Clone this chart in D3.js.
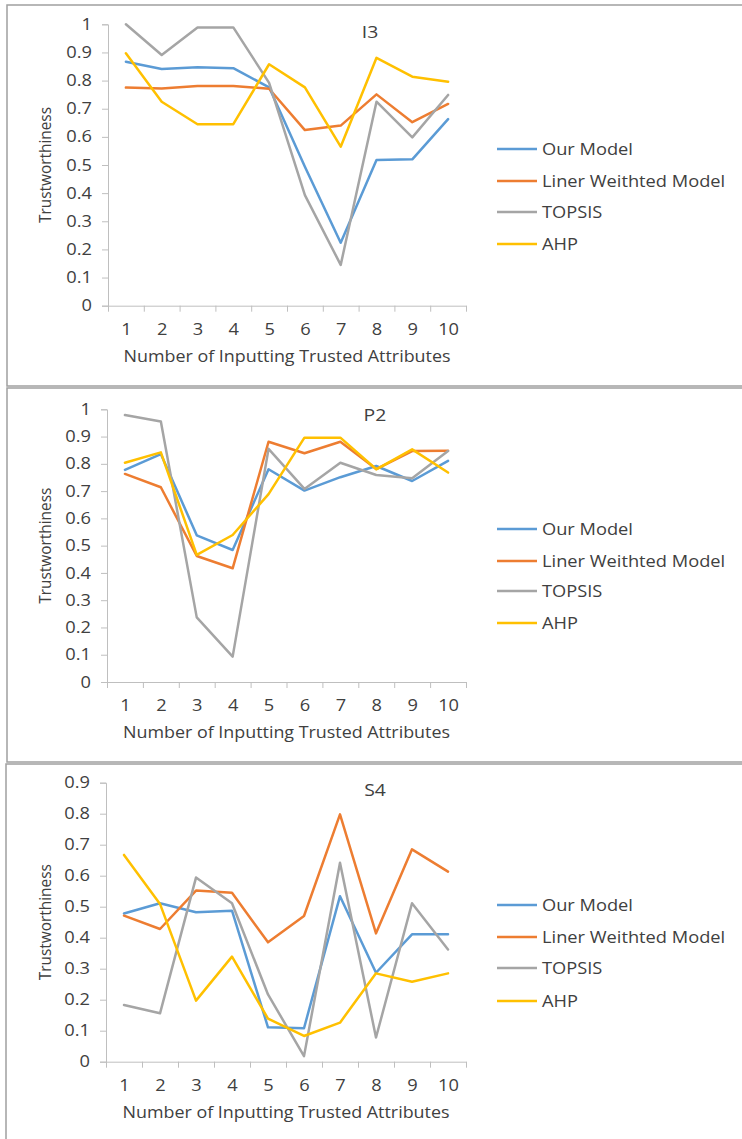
<!DOCTYPE html>
<html>
<head>
<meta charset="utf-8">
<script src="https://cdn.jsdelivr.net/npm/d3@7"></script>
<style>
  html, body { margin: 0; padding: 0; background: #ffffff; }
  svg { display: block; }
  text { font-family: "Open Sans", "DejaVu Sans", sans-serif; fill: #404040; }
</style>
</head>
<body>
<svg id="chart" width="742" height="1139"></svg>
<script>
// ---------------- data ----------------
const categories = [1, 2, 3, 4, 5, 6, 7, 8, 9, 10];
const seriesNames = ["Our Model", "Liner Weithted Model", "TOPSIS", "AHP"];
const seriesColors = ["#5B9BD5", "#ED7D31", "#A5A5A5", "#FFC000"];
const xTitle = "Number of Inputting Trusted Attributes";
const yTitle = "Trustworthiness";

// Panel I3
const i3Title = "I3";
const i3OurModel = [0.867, 0.841, 0.847, 0.844, 0.776, 0.494, 0.224, 0.518, 0.520, 0.663];
const i3Liner    = [0.775, 0.772, 0.781, 0.781, 0.771, 0.624, 0.640, 0.751, 0.652, 0.717];
const i3Topsis   = [1.000, 0.891, 0.989, 0.989, 0.792, 0.393, 0.145, 0.725, 0.598, 0.749];
const i3Ahp      = [0.897, 0.725, 0.645, 0.645, 0.858, 0.776, 0.565, 0.881, 0.814, 0.796];
const i3YTicks   = [0, 0.1, 0.2, 0.3, 0.4, 0.5, 0.6, 0.7, 0.8, 0.9, 1];

// Panel P2
const p2Title = "P2";
const p2OurModel = [0.778, 0.836, 0.538, 0.484, 0.780, 0.702, 0.751, 0.792, 0.737, 0.811];
const p2Liner    = [0.763, 0.714, 0.462, 0.417, 0.881, 0.839, 0.881, 0.781, 0.847, 0.848];
const p2Topsis   = [0.979, 0.955, 0.237, 0.093, 0.855, 0.708, 0.804, 0.759, 0.747, 0.847];
const p2Ahp      = [0.804, 0.842, 0.466, 0.539, 0.689, 0.896, 0.896, 0.780, 0.853, 0.768];
const p2YTicks   = [0, 0.1, 0.2, 0.3, 0.4, 0.5, 0.6, 0.7, 0.8, 0.9, 1];

// Panel S4
const s4Title = "S4";
const s4OurModel = [0.478, 0.511, 0.482, 0.487, 0.111, 0.108, 0.534, 0.287, 0.411, 0.411];
const s4Liner    = [0.471, 0.428, 0.552, 0.545, 0.385, 0.470, 0.798, 0.414, 0.685, 0.613];
const s4Topsis   = [0.183, 0.156, 0.594, 0.511, 0.217, 0.018, 0.642, 0.078, 0.511, 0.362];
const s4Ahp      = [0.667, 0.509, 0.197, 0.339, 0.139, 0.083, 0.126, 0.285, 0.258, 0.285];
const s4YTicks   = [0, 0.1, 0.2, 0.3, 0.4, 0.5, 0.6, 0.7, 0.8, 0.9];

// ---------------- layout ----------------
const panels = [
  { title: i3Title, series: [i3OurModel, i3Liner, i3Topsis, i3Ahp], yTicks: i3YTicks, yMax: 1,
    box: [7, 5, 386], x0: 108, x1: 466, yTop: 24.3, yBot: 305.7, titlePos: [370, 38],
    legendY: [149, 181, 212, 244] },
  { title: p2Title, series: [p2OurModel, p2Liner, p2Topsis, p2Ahp], yTicks: p2YTicks, yMax: 1,
    box: [7, 388, 762], x0: 107, x1: 466, yTop: 409.3, yBot: 682, titlePos: [375, 421],
    legendY: [529, 561, 591, 623] },
  { title: s4Title, series: [s4OurModel, s4Liner, s4Topsis, s4Ahp], yTicks: s4YTicks, yMax: 0.9,
    box: [6, 764, 1150], x0: 106, x1: 466, yTop: 782.7, yBot: 1061.7, titlePos: [375, 796],
    legendY: [905, 937, 968, 1001] }
];

const svg = d3.select("#chart");
svg.append("rect").attr("width", 742).attr("height", 1139).attr("fill", "#ffffff");

const axisColor = "#BFBFBF";
const stretch = 1.14;   // the reference text is drawn slightly wide

function widen(sel) {
  sel.each(function () {
    const w = this.getComputedTextLength();
    if (w > 0) {
      d3.select(this).attr("textLength", w * stretch).attr("lengthAdjust", "spacingAndGlyphs");
    }
  });
}

panels.forEach(p => {
  const g = svg.append("g");

  // frame
  g.append("rect")
    .attr("x", p.box[0]).attr("y", p.box[1])
    .attr("width", 760).attr("height", p.box[2] - p.box[1])
    .attr("fill", "none").attr("stroke", "#A0A0A0").attr("stroke-width", 1.5);

  const x = d3.scaleLinear().domain([0.5, 10.5]).range([p.x0, p.x1]);
  const y = d3.scaleLinear().domain([0, p.yMax]).range([p.yBot, p.yTop]);

  // y axis
  const yAxis = g.append("g")
    .attr("transform", `translate(${p.x0},0)`)
    .call(d3.axisLeft(y).tickValues(p.yTicks).tickSize(6).tickPadding(10)
      .tickFormat(d => d3.format("~g")(d)));
  yAxis.select(".domain").attr("stroke", axisColor);
  yAxis.selectAll(".tick line").attr("stroke", axisColor);
  yAxis.selectAll(".tick text").attr("font-size", 16).attr("fill", "#404040")
    .attr("font-family", "'Open Sans', sans-serif").call(widen);

  // x axis: tick marks at category boundaries
  const xBound = d3.range(0.5, 11, 1);
  const xAxisMarks = g.append("g")
    .attr("transform", `translate(0,${p.yBot})`)
    .call(d3.axisBottom(x).tickValues(xBound).tickSize(6).tickSizeOuter(0).tickFormat(""));
  xAxisMarks.select(".domain").attr("stroke", axisColor);
  xAxisMarks.selectAll(".tick line").attr("stroke", axisColor);

  // x axis labels at category centres
  const xAxisLabels = g.append("g")
    .attr("transform", `translate(0,${p.yBot})`)
    .call(d3.axisBottom(x).tickValues(categories).tickSize(0).tickPadding(18).tickFormat(d3.format("d")));
  xAxisLabels.select(".domain").remove();
  xAxisLabels.selectAll(".tick text").attr("font-size", 16).attr("fill", "#404040")
    .attr("font-family", "'Open Sans', sans-serif").call(widen);

  // axis titles
  g.append("text")
    .attr("x", (p.x0 + p.x1) / 2).attr("y", p.yBot + 56)
    .attr("text-anchor", "middle").attr("font-size", 16)
    .attr("textLength", 327).attr("lengthAdjust", "spacingAndGlyphs")
    .text(xTitle);

  g.append("text")
    .attr("transform", `translate(51,${(p.yTop + p.yBot) / 2}) rotate(-90)`)
    .attr("text-anchor", "middle").attr("font-size", 16)
    .attr("textLength", 116).attr("lengthAdjust", "spacingAndGlyphs")
    .text(yTitle);

  // chart title
  g.append("text")
    .attr("x", p.titlePos[0]).attr("y", p.titlePos[1])
    .attr("text-anchor", "middle").attr("font-size", 17)
    .text(p.title).call(widen);

  // lines
  const line = d3.line().x((d, i) => x(categories[i])).y(d => y(d));
  p.series.forEach((s, si) => {
    g.append("path")
      .datum(s)
      .attr("d", line)
      .attr("fill", "none")
      .attr("stroke", seriesColors[si])
      .attr("stroke-width", 2.5)
      .attr("stroke-linejoin", "round")
      .attr("stroke-linecap", "round");
  });

  // legend
  const leg = g.append("g");
  seriesNames.forEach((name, si) => {
    const ly = p.legendY[si];
    leg.append("line")
      .attr("x1", 497).attr("x2", 537).attr("y1", ly).attr("y2", ly)
      .attr("stroke", seriesColors[si]).attr("stroke-width", 2.5);
    leg.append("text")
      .attr("x", 542).attr("y", ly + 5.5)
      .attr("font-size", 16)
      .text(name).call(widen);
  });
});
</script>
</body>
</html>
